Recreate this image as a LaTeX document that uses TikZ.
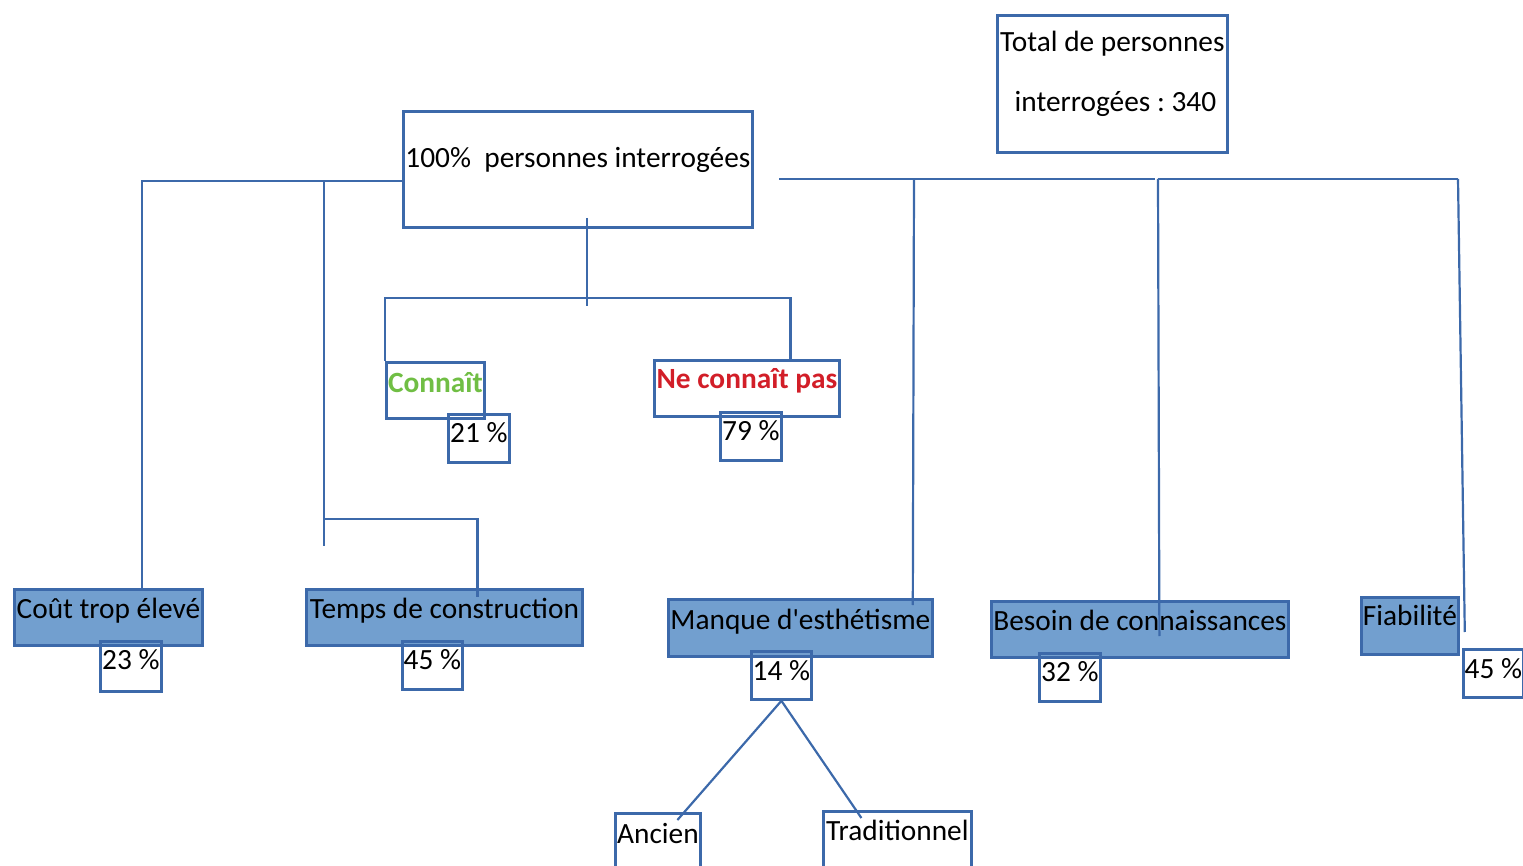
\documentclass[tikz,border=0pt]{standalone}
\usepackage{fontspec}
\setmainfont{Carlito}
\frenchspacing
\newlength\pxu
\setlength\pxu{0.2mm}
\definecolor{edgeblue}{RGB}{60,105,170}
\definecolor{fillblue}{RGB}{114,159,207}
\definecolor{knowgreen}{RGB}{112,190,68}
\definecolor{notred}{RGB}{210,30,40}
\tikzset{
  cell/.style={draw=edgeblue,line width=2.8\pxu,anchor=north west,inner sep=0pt,
    font=\fontsize{16.7}{20}\selectfont},
  tag/.style={cell,fill=fillblue},
  strong/.style={font=\fontsize{16.7}{20}\selectfont\bfseries},
  boxdim/.style n args={3}{minimum width=#1\pxu,text height=#2\pxu,text depth=#3\pxu},
  link/.style={draw=edgeblue,line width=2.2\pxu}
}
\begin{document}
\begin{tikzpicture}[x=0.2mm,y=-0.2mm]
  \useasboundingbox (0,0) rectangle (1523,866);
  % boxes
  \node[cell,boxdim={230}{36}{101}] (total) at (996,14)
    {\parbox[t]{230\pxu}{\centering\fontsize{16.7}{34.1}\selectfont Total de personnes\\\hspace*{6\pxu}interrogées : 340}};
  \node[cell,boxdim={349}{56}{60}] (all100) at (402,110) {100\%\ \ personnes interrogées};
  \node[cell,strong,text=knowgreen,boxdim={98}{30}{26}] (connait) at (385,361) {Connaît};
  \node[cell,strong,text=notred,boxdim={185}{28}{28}] (neconnait) at (653,359) {Ne connaît pas};
  \node[tag,boxdim={188}{29}{27}] (cout) at (13,588) {Coût trop élevé};
  \node[tag,boxdim={276}{29}{27}] (temps) at (305,588) {Temps de construction};
  \node[tag,boxdim={264}{30}{27}] (manque) at (667,598) {Manque d\textquotesingle esthétisme};
  \node[tag,boxdim={297}{29}{27}] (besoin) at (990,600) {Besoin de connaissances};
  \node[tag,boxdim={97}{28}{29}] (fiab) at (1360,596) {Fiabilité};
  % percentages
  \node[cell,boxdim={61}{28}{20}] (p21) at (447,413) {21~\%};
  \node[cell,boxdim={61}{28}{20}] (p79) at (719,411) {79~\%};
  \node[cell,boxdim={61}{28}{22}] (p23) at (99,640) {23~\%};
  \node[cell,boxdim={60}{28}{20}] (p45a) at (401,640) {45~\%};
  \node[cell,boxdim={60}{29}{19}] (p14) at (750,650) {14~\%};
  \node[cell,boxdim={61}{28}{20}] (p32) at (1038,652) {32~\%};
  \node[cell,boxdim={60}{29}{19}] (p45b) at (1462,648) {45~\%};
  \node[cell,boxdim={85}{30}{40}] (ancien) at (614,812) {Ancien};
  \node[cell,boxdim={148}{29}{43}] (trad) at (822,810) {Traditionnel};
  % junctions
  \coordinate (busL) at (142,181);
  \coordinate (busT) at (324,181);
  \coordinate (knee) at (324,519);
  \coordinate (stem) at (587,218);
  \coordinate (fork) at (587,298);
  \coordinate (busR) at (779,179);
  \coordinate (dropM) at (914,179);
  \coordinate (gapR) at (1158,179);
  \coordinate (busE) at (1458,179);
  % left side
  \draw[link] (all100.west |- busL) -- (busL) -- (busL |- cout.north);
  \draw[link] (busT) -- ([yshift=-27\pxu]knee);
  \draw[link] (knee) -| ([xshift=33\pxu,yshift=-9\pxu]temps.north);
  % centre
  \draw[link] (stem) -- ([yshift=-8\pxu]fork);
  \draw[link] (connait.north west) |- (fork) -| ([xshift=43.5\pxu,yshift=-3\pxu]neconnait.north);
  % right side
  \draw[link] (busR) -- ([xshift=-3\pxu]gapR);
  \draw[link] (gapR) -- (busE);
  \draw[link] (dropM) -- ([xshift=-21\pxu,yshift=-7\pxu]manque.north east);
  \draw[link] (gapR) -- ([xshift=19.5\pxu,yshift=-36\pxu]besoin.north);
  \draw[link] (busE) -- ([xshift=5\pxu,yshift=-36\pxu]fiab.north east);
  % bottom
  \draw[link] (p14.south) -- ([xshift=19.5\pxu,yshift=-8\pxu]ancien.north);
  \draw[link] (p14.south) -- ([xshift=-36\pxu,yshift=-8\pxu]trad.north);
\end{tikzpicture}
\end{document}
